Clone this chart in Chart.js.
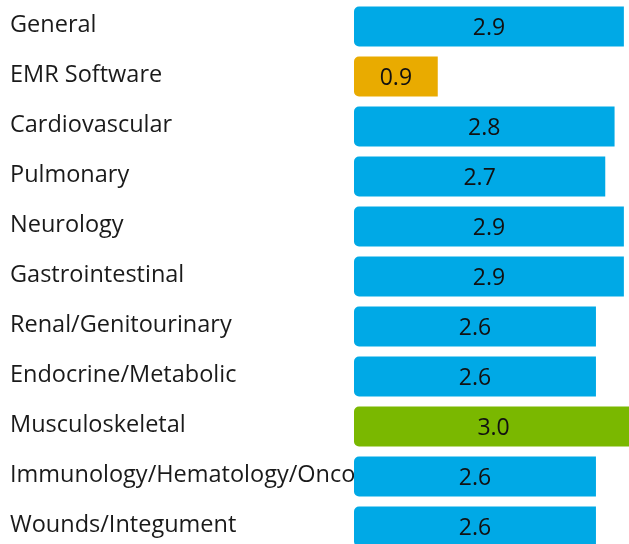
<!DOCTYPE html>
<html>
<head>
<meta charset="utf-8">
<script src="https://cdn.jsdelivr.net/npm/chart.js@4.4.1/dist/chart.umd.min.js"></script>
<style>
  html, body { margin: 0; padding: 0; background: #fff; overflow: hidden; }
  #wrap { position: relative; width: 629px; height: 556px; }
</style>
</head>
<body>
<div id="wrap"><canvas id="chart"></canvas></div>
<script>
// Categories and scores
const categories = [
  'General',
  'EMR Software',
  'Cardiovascular',
  'Pulmonary',
  'Neurology',
  'Gastrointestinal',
  'Renal/Genitourinary',
  'Endocrine/Metabolic',
  'Musculoskeletal',
  'Immunology/Hematology/Oncology',
  'Wounds/Integument'
];
const scores = [2.9, 0.9, 2.8, 2.7, 2.9, 2.9, 2.6, 2.6, 3.0, 2.6, 2.6];
const barColors = [
  '#00A9E6', '#E9AB00', '#00A9E6', '#00A9E6', '#00A9E6', '#00A9E6',
  '#00A9E6', '#00A9E6', '#7AB800', '#00A9E6', '#00A9E6'
];

// Category names, left aligned, drawn before the bars so long ones get covered
const categoryLabels = {
  id: 'categoryLabels',
  beforeDatasetsDraw(chart) {
    const ctx = chart.ctx;
    const yScale = chart.scales.y;
    ctx.save();
    ctx.font = '23.5px "Open Sans"';
    ctx.fillStyle = '#1a1a1a';
    ctx.textAlign = 'left';
    ctx.textBaseline = 'alphabetic';
    categories.forEach(function(name, i) {
      ctx.fillText(name, yScale.left, yScale.getPixelForValue(i) + 5);
    });
    ctx.restore();
  }
};

// Draw the value in the middle of each bar
const valueLabels = {
  id: 'valueLabels',
  afterDatasetsDraw(chart) {
    const ctx = chart.ctx;
    const meta = chart.getDatasetMeta(0);
    ctx.save();
    ctx.font = '23px "Open Sans"';
    ctx.fillStyle = '#111';
    ctx.textAlign = 'center';
    ctx.textBaseline = 'alphabetic';
    meta.data.forEach(function(bar, i) {
      const p = bar.getProps(['x', 'y', 'base'], true);
      ctx.fillText(scores[i].toFixed(1), (p.x + p.base) / 2, p.y + 8.5);
    });
    ctx.restore();
  }
};

const ctx = document.getElementById('chart').getContext('2d');
const chart = new Chart(ctx, {
  type: 'bar',
  data: {
    labels: categories,
    datasets: [{
      data: scores,
      backgroundColor: barColors,
      borderSkipped: false,
      borderRadius: { topLeft: 5, bottomLeft: 5, topRight: 0, bottomRight: 0 },
      barPercentage: 0.8,
      categoryPercentage: 1.0
    }]
  },
  options: {
    indexAxis: 'y',
    responsive: true,
    maintainAspectRatio: false,
    animation: false,
    layout: {
      padding: { left: 10, top: 1.5, right: 0, bottom: 4.5 }
    },
    plugins: {
      legend: { display: false },
      tooltip: { enabled: false }
    },
    scales: {
      x: {
        display: false,
        min: 0,
        max: 2.955
      },
      y: {
        afterFit: function(scale) {
          scale.width = 344;
          scale.paddingTop = 0;
          scale.paddingBottom = 0;
        },
        grid: { display: false, drawTicks: false },
        border: { display: false },
        ticks: { display: false }
      }
    }
  },
  plugins: [categoryLabels, valueLabels]
});
</script>
</body>
</html>
